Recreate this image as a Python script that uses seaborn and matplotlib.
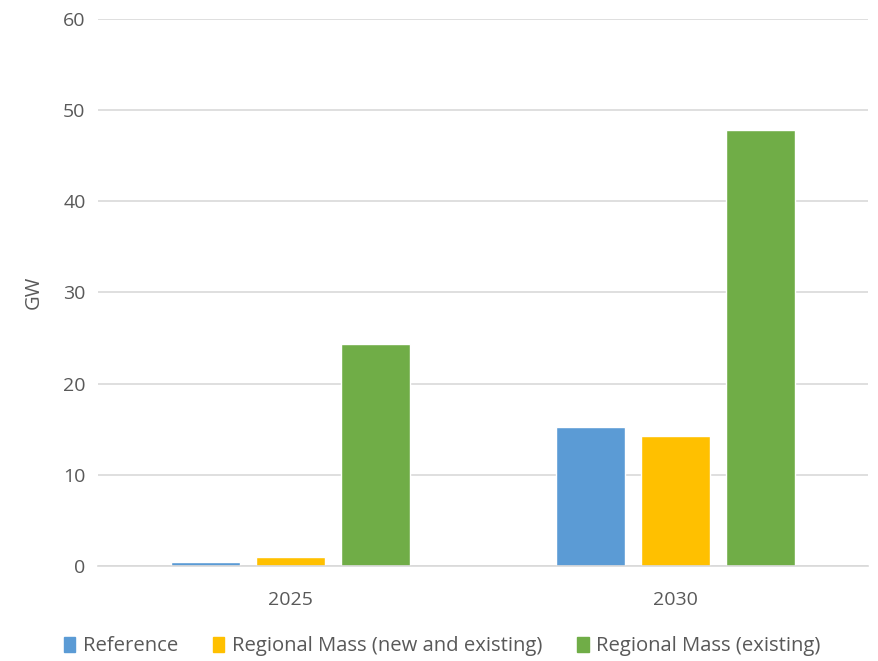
import matplotlib
matplotlib.use("Agg")
import matplotlib.pyplot as plt
import seaborn as sns
import pandas as pd

years = ["2025", "2030"]
series = ["Reference", "Regional Mass (new and existing)", "Regional Mass (existing)"]
reference = [0.4, 15.3]
regional_new_existing = [1.0, 14.3]
regional_existing = [24.4, 47.8]
colors = ["#5B9BD5", "#FFC000", "#70AD47"]
y_ticks = [0, 10, 20, 30, 40, 50, 60]

rows = []
for name, vals in zip(series, [reference, regional_new_existing, regional_existing]):
    for yr, v in zip(years, vals):
        rows.append({"Year": yr, "Series": name, "GW": v})
df = pd.DataFrame(rows)

sns.set_theme(style="white")
plt.rcParams["font.family"] = ["Open Sans", "DejaVu Sans"]

fig = plt.figure(figsize=(8.79, 6.61), dpi=100)
ax = fig.add_axes([0.1115, 0.1437, 0.8760, 0.8276])

sns.barplot(data=df, x="Year", y="GW", hue="Series", hue_order=series,
            palette=colors, width=0.662, gap=0.19, saturation=1,
            errorbar=None, ax=ax, legend=False)

ax.set_xlim(-0.5, 1.5)
ax.set_ylim(0, 60)
ax.set_yticks(y_ticks)
ax.yaxis.grid(True, color="#D9D9D9", linewidth=1.2)
ax.set_axisbelow(True)
for s in ["top", "right", "left"]:
    ax.spines[s].set_visible(False)
ax.spines["bottom"].set_color("#D9D9D9")
ax.spines["bottom"].set_linewidth(1.2)
ax.tick_params(axis="both", length=0, labelsize=14, labelcolor="#595959")
ax.tick_params(axis="y", pad=9)
ax.tick_params(axis="x", pad=18)
ax.set_xlabel("")
ax.set_ylabel("GW", fontsize=14.5, color="#595959", labelpad=14)

handles = [plt.Rectangle((0, 0), 1, 1, color=c) for c in colors]
fig.legend(handles, series, loc="center", bbox_to_anchor=(0.503, 0.022),
           ncol=3, frameon=False, labelcolor="#595959",
           prop={"family": "Open Sans", "size": 14.6},
           handlelength=0.55, handleheight=0.75, handletextpad=0.35,
           columnspacing=1.75, borderpad=0.2)

fig.savefig("out.png", dpi=100)
